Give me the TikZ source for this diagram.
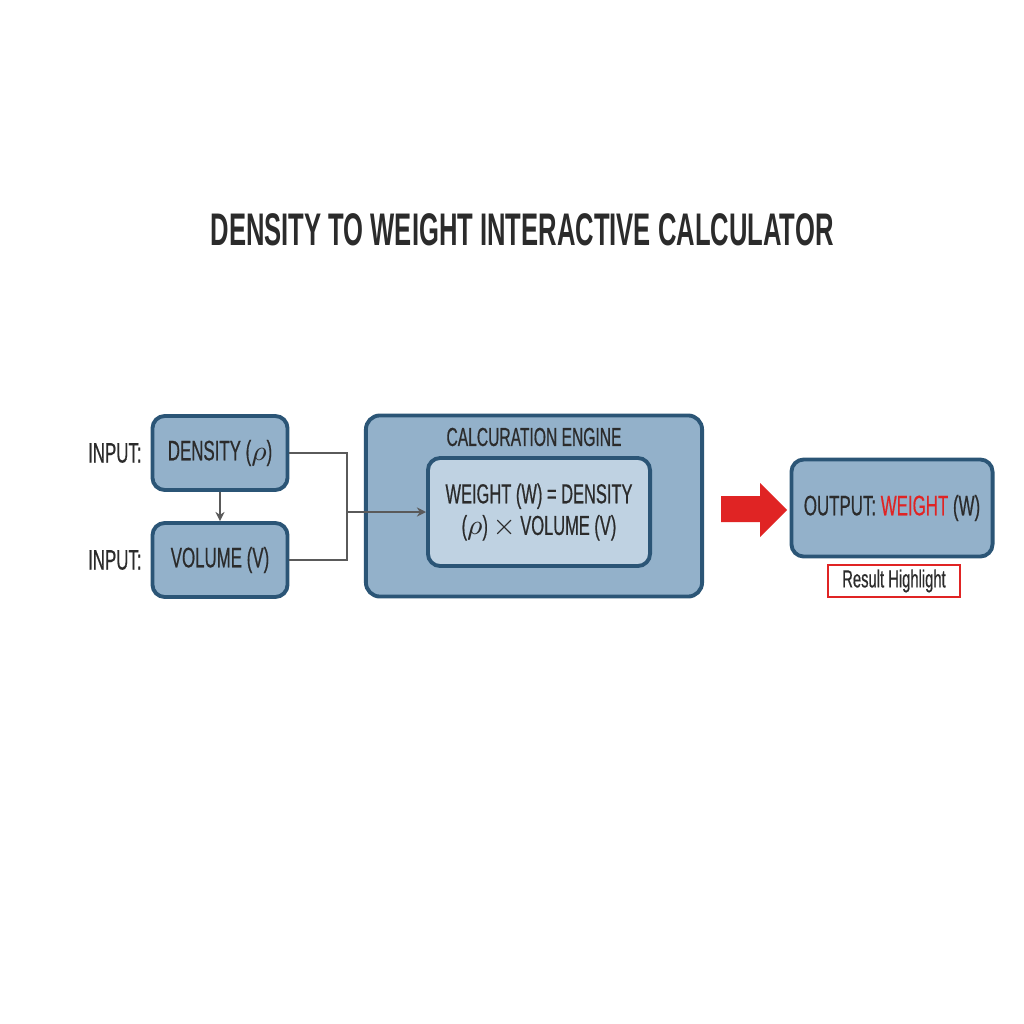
\documentclass[tikz,border=0pt]{standalone}
\usepackage{fontspec}
\setmainfont[FakeStretch=0.6,FakeBold=0.5]{Liberation Sans}
\newfontfamily\titlefont[FakeStretch=0.56]{Liberation Sans}
\usepackage{tikz}
\usetikzlibrary{arrows.meta,%
                positioning}

\definecolor{boxfill}{HTML}{93B1CA}
\definecolor{boxline}{HTML}{2B5576}
\definecolor{innerfill}{HTML}{BFD2E2}
\definecolor{txt}{HTML}{2B2B2B}
\definecolor{hired}{HTML}{E02424}
\definecolor{wire}{HTML}{5A5A5A}

\tikzset{
  inbox/.style={draw=boxline, fill=boxfill, line width=1.1pt, rounded corners=3.5pt,
    minimum width=1.35cm, minimum height=0.74cm, text=txt, font=\fontsize{8}{9}\selectfont},
  label/.style={text=txt, font=\fontsize{8}{9}\selectfont, anchor=east},
  wire/.style={draw=wire, line width=0.45pt},
}

\begin{document}
\begin{tikzpicture}[x=0.01cm,y=-0.01cm]
\useasboundingbox[fill=white] (0,0) rectangle (1024,1024);

\node[text=txt, font=\titlefont\bfseries\fontsize{13}{15}\selectfont] (title) at (522,230) {DENSITY TO WEIGHT INTERACTIVE CALCULATOR};

% inputs
\node[inbox] (density) at (220,453) {DENSITY ($\rho$)};
\node[inbox] (volume) at (220,560) {VOLUME (V)};
\node[label] (lbldens) at (154,453) {INPUT:};
\node[label] (lblvol) at (154,560) {INPUT:};

% engine
\node[draw=boxline, fill=boxfill, line width=1.1pt, rounded corners=4pt,
  minimum width=3.36cm, minimum height=1.81cm] (engine) at (534,506) {};
\node[text=txt, font=\fontsize{7.4}{8}\selectfont] (enginetitle) at (534,437) {CALCURATION ENGINE};
\node[draw=boxline, fill=innerfill, line width=1.1pt, rounded corners=3.5pt,
  minimum width=2.22cm, minimum height=1.08cm, text=txt, align=center,
  font=\fontsize{7.8}{9}\selectfont] (formula) at (539,512)
  {WEIGHT (W) = DENSITY\\ ($\rho$) $\times$ VOLUME (V)};

% output
\node[inbox, minimum width=2.01cm, minimum height=0.97cm] (output) at (892,508)
  {OUTPUT: \textcolor{hired}{WEIGHT} (W)};
\node[draw=hired, fill=white, line width=0.7pt, minimum width=1.32cm, minimum height=0.32cm,
  inner sep=1pt, text=txt, font=\fontsize{7}{8}\selectfont] (highlight) at (894,581) {Result Highlight};

% wires
\coordinate (jn) at (347,512);
\draw[wire, -{Stealth[length=2.6pt,width=2.6pt]}] (density) -- (volume);
\draw[wire] (density.east) -| (jn) |- (volume.east);
\draw[wire, -{Stealth[length=2.6pt,width=2.6pt]}] (jn) -- (formula.west);

% red arrow
\fill[hired] (721,496) -- (760,496) -- (760,483) -- (787,510) -- (760,537) -- (760,522) -- (721,522) -- cycle;
\end{tikzpicture}
\end{document}
